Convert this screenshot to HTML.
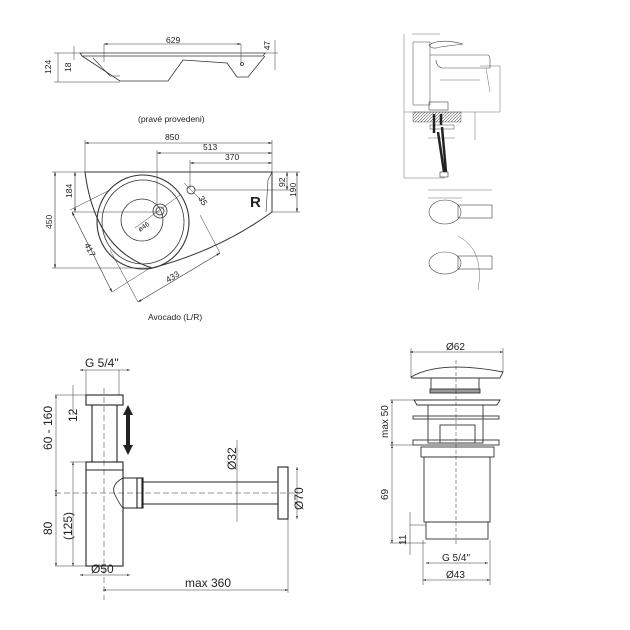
<!DOCTYPE html>
<html><head><meta charset="utf-8"><style>
html,body{margin:0;padding:0;background:#fff;}
svg{display:block;font-family:"Liberation Sans",sans-serif;}
</style></head><body>
<svg width="630" height="630" viewBox="0 0 630 630" xmlns="http://www.w3.org/2000/svg">
<defs>
<marker id="a" viewBox="0 0 10 10" refX="10" refY="5" markerWidth="6" markerHeight="6" orient="auto-start-reverse"><path d="M0,2L10,5L0,8z" fill="#222"/></marker>
<pattern id="h" width="3" height="3" patternUnits="userSpaceOnUse"><path d="M0,3L3,0" stroke="#555" stroke-width="0.6"/></pattern>
</defs>
<g fill="none" stroke="#333" stroke-width="0.8">
<!-- side view of sink -->
<path d="M80,53 L265,53 L263,56 L82,56 Z"/>
<path d="M82,56 L120,81 L168,81 L183,60 L227,63 L237,77 L248,77 L265,56"/>
<path d="M93,58 L110,76 L120,76" stroke-width="0.6"/>
<line x1="104" y1="44" x2="241" y2="44" marker-start="url(#a)" marker-end="url(#a)" stroke-width="0.6"/>
<line x1="104" y1="44" x2="104" y2="62" stroke-width="0.5"/>
<line x1="241" y1="44" x2="241" y2="66" stroke-width="0.5"/>
<circle cx="242" cy="64" r="1.5"/>
<line x1="58" y1="53" x2="58" y2="82" stroke-width="0.5"/>
<line x1="54" y1="53" x2="82" y2="53" stroke-width="0.5"/>
<line x1="54" y1="82" x2="120" y2="82" stroke-width="0.5"/>
<line x1="74" y1="46" x2="74" y2="60" stroke-width="0.5"/>
<line x1="275" y1="40" x2="275" y2="70" stroke-width="0.5"/>
<line x1="265" y1="53" x2="278" y2="53" stroke-width="0.5"/>
<!-- plan view -->
<path d="M85,172 L272,172 L272,212 Q220,250 152,268 Q95,250 85,172 Z" stroke-width="1"/>
<path d="M265,172 L272,172 L268,180 L266,212" stroke-width="0.6"/>
<ellipse cx="143" cy="222" rx="46" ry="47" stroke-width="1.1"/>
<ellipse cx="143" cy="222" rx="41" ry="42"/>
<circle cx="142" cy="220" r="21"/>
<circle cx="160" cy="211" r="7"/><circle cx="160" cy="211" r="4"/>
<circle cx="191" cy="190" r="4"/>
<line x1="184" y1="183" x2="202" y2="201" stroke-width="0.5"/>
<line x1="135" y1="228" x2="180" y2="195" stroke-width="0.5"/>
<line x1="85" y1="143" x2="272" y2="143" marker-start="url(#a)" marker-end="url(#a)" stroke-width="0.6"/>
<line x1="157" y1="153" x2="272" y2="153" marker-start="url(#a)" marker-end="url(#a)" stroke-width="0.6"/>
<line x1="190" y1="163" x2="272" y2="163" marker-start="url(#a)" marker-end="url(#a)" stroke-width="0.6"/>
<line x1="85" y1="140" x2="85" y2="172" stroke-width="0.5"/>
<line x1="272" y1="140" x2="272" y2="172" stroke-width="0.5"/>
<line x1="157" y1="150" x2="157" y2="205" stroke-width="0.5"/>
<line x1="190" y1="160" x2="190" y2="188" stroke-width="0.5"/>
<line x1="55" y1="172" x2="55" y2="268" marker-start="url(#a)" marker-end="url(#a)" stroke-width="0.6"/>
<line x1="52" y1="172" x2="85" y2="172" stroke-width="0.5"/>
<line x1="52" y1="268" x2="150" y2="268" stroke-width="0.5"/>
<line x1="75" y1="172" x2="75" y2="212" marker-start="url(#a)" marker-end="url(#a)" stroke-width="0.6"/>
<line x1="72" y1="212" x2="160" y2="212" stroke-width="0.5"/>
<line x1="287" y1="172" x2="287" y2="190" marker-start="url(#a)" marker-end="url(#a)" stroke-width="0.6"/>
<line x1="297" y1="172" x2="297" y2="212" marker-start="url(#a)" marker-end="url(#a)" stroke-width="0.6"/>
<line x1="272" y1="172" x2="300" y2="172" stroke-width="0.5"/>
<line x1="195" y1="190" x2="290" y2="190" stroke-width="0.5"/>
<line x1="272" y1="212" x2="300" y2="212" stroke-width="0.5"/>
<line x1="70" y1="210" x2="110" y2="190" stroke-width="0.5"/>
<line x1="72" y1="212" x2="112" y2="292" marker-start="url(#a)" marker-end="url(#a)" stroke-width="0.6"/>
<line x1="112" y1="292" x2="150" y2="268" stroke-width="0.5"/>
<line x1="138" y1="302" x2="220" y2="253" marker-start="url(#a)" marker-end="url(#a)" stroke-width="0.6"/>
<line x1="138" y1="302" x2="110" y2="250" stroke-width="0.5"/>
<line x1="220" y1="253" x2="200" y2="215" stroke-width="0.5"/>
</g>
<g font-size="8.5" fill="#222">
<text x="166" y="43">629</text>
<text x="270" y="50" transform="rotate(-90 270 50)" font-size="8">47</text>
<text x="51" y="74" transform="rotate(-90 51 74)">124</text>
<text x="71" y="72" transform="rotate(-90 71 72)">18</text>
<text x="138" y="122">(pravé provedeni)</text>
<text x="165" y="140">850</text>
<text x="203" y="150">513</text>
<text x="225" y="160">370</text>
<text x="52" y="229" transform="rotate(-90 52 229)">450</text>
<text x="72" y="198" transform="rotate(-90 72 198)">184</text>
<text x="285" y="187" transform="rotate(-90 285 187)">92</text>
<text x="296" y="197" transform="rotate(-90 296 197)">190</text>
<text x="198" y="198" transform="rotate(60 198 198)">35</text>
<text x="140" y="232" transform="rotate(-35 140 232)" font-size="7">ø46</text>
<text x="84" y="245" transform="rotate(62 84 245)">417</text>
<text x="168" y="283" transform="rotate(-32 168 283)">433</text>
<text x="148" y="320">Avocado (L/R)</text>
<text x="250" y="207" font-size="15" font-weight="bold">R</text>
</g>
<!-- faucet -->
<g fill="none" stroke="#444" stroke-width="0.6">
<path d="M413,42 L430,42 L430,105 L413,105 Z" stroke-width="0.5"/>
<path d="M430,55 L488,55 Q490,56 490,60 L490,68 L442,68 Q436,66 436,60"/>
<path d="M429,45 Q440,38 463,44 L440,47 Q432,50 429,45 Z"/>
<rect x="429" y="102" width="19" height="8"/>
<rect x="413" y="112" width="48" height="10" fill="url(#h)" stroke-width="0.4"/>
<line x1="404" y1="112" x2="500" y2="112" stroke-width="0.4"/>
<line x1="404" y1="34" x2="404" y2="178" stroke-width="0.4"/>
<line x1="412" y1="34" x2="440" y2="34" stroke-width="0.4"/>
<line x1="480" y1="66" x2="500" y2="66" stroke-width="0.4"/>
<line x1="500" y1="66" x2="500" y2="112" stroke-width="0.4"/>
<line x1="486" y1="68" x2="490" y2="92" stroke-width="0.4"/>
<line x1="475" y1="112" x2="475" y2="140" stroke-width="0.4"/>
<line x1="440" y1="80" x2="480" y2="80" stroke-width="0.4"/>
<line x1="428" y1="138" x2="455" y2="138" stroke-width="0.4"/>
<line x1="404" y1="178" x2="445" y2="178" stroke-width="0.4"/>
<rect x="430" y="125" width="24" height="4" stroke-width="0.5"/>
<ellipse cx="445" cy="212" rx="16" ry="12"/>
<rect x="458" y="205" width="34" height="13"/>
<line x1="428" y1="190" x2="492" y2="190" stroke-width="0.4"/>
<line x1="428" y1="198" x2="462" y2="198" stroke-width="0.4"/>
<ellipse cx="445" cy="263" rx="16" ry="11"/>
<rect x="458" y="256" width="34" height="13"/>
<path d="M458,236 Q485,250 478,290" stroke-width="0.4"/>
</g>
<g stroke="#222" stroke-width="2.5" fill="none">
<line x1="434" y1="114" x2="434" y2="133"/>
<line x1="441" y1="114" x2="441" y2="125"/>
<line x1="442" y1="127" x2="446" y2="172"/>
<line x1="438" y1="132" x2="444" y2="172"/>
</g>
<rect x="440" y="172" width="8" height="5" fill="none" stroke="#333" stroke-width="0.6"/>
<!-- bottom-left siphon -->
<g fill="none" stroke="#222" stroke-width="1.1">
<rect x="86" y="395" width="37" height="10"/>
<path d="M92,405 L92,462 M117,405 L117,462"/>
<rect x="86" y="462" width="37" height="104"/>
<line x1="86" y1="470" x2="123" y2="470"/>
<path d="M123,478 L142,478 L142,508 L123,508"/>
<path d="M123,478 Q110,485 115,495 Q120,505 123,508" stroke-width="0.8"/>
<rect x="137" y="478" width="6" height="30"/>
<path d="M143,482 L278,482 M143,504 L278,504"/>
<rect x="278" y="467" width="10" height="52"/>
</g>
<g fill="none" stroke="#333" stroke-width="0.5">
<line x1="104" y1="388" x2="104" y2="600" stroke-dasharray="6 3"/>
<line x1="55" y1="493" x2="300" y2="493" stroke-dasharray="6 3"/>
<line x1="80" y1="370" x2="130" y2="370" marker-start="url(#a)" marker-end="url(#a)"/>
<line x1="86" y1="370" x2="86" y2="395"/><line x1="119" y1="370" x2="119" y2="395"/>
<line x1="55" y1="395" x2="86" y2="395"/>
<line x1="56" y1="395" x2="56" y2="493" marker-start="url(#a)" marker-end="url(#a)"/>
<line x1="56" y1="493" x2="56" y2="566" marker-start="url(#a)" marker-end="url(#a)"/>
<line x1="55" y1="566" x2="86" y2="566"/>
<line x1="73" y1="385" x2="73" y2="415"/>
<line x1="73" y1="462" x2="73" y2="566" marker-start="url(#a)" marker-end="url(#a)"/>
<line x1="70" y1="462" x2="86" y2="462"/>
<line x1="80" y1="575" x2="130" y2="575" marker-start="url(#a)" marker-end="url(#a)"/>
<line x1="103" y1="590" x2="288" y2="590" marker-start="url(#a)" marker-end="url(#a)"/>
<line x1="288" y1="519" x2="288" y2="593"/>
<line x1="237" y1="440" x2="237" y2="522"/>
<line x1="297" y1="467" x2="297" y2="519" marker-start="url(#a)" marker-end="url(#a)"/>
</g>
<path d="M128,405 L123,415 L126,415 L126,445 L123,445 L128,455 L133,445 L130,445 L130,415 L133,415 Z" fill="#222"/>
<g font-size="12" fill="#222">
<text x="85" y="367">G 5/4"</text>
<text x="52" y="450" transform="rotate(-90 52 450)">60 - 160</text>
<text x="77" y="422" transform="rotate(-90 77 422)">12</text>
<text x="72" y="540" transform="rotate(-90 72 540)">(125)</text>
<text x="52" y="535" transform="rotate(-90 52 535)">80</text>
<text x="91" y="573">Ø50</text>
<text x="185" y="587">max 360</text>
<text x="236" y="470" transform="rotate(-90 236 470)">Ø32</text>
<text x="303" y="510" transform="rotate(-90 303 510)">Ø70</text>
</g>
<!-- bottom-right waste -->
<g fill="none" stroke="#333" stroke-width="0.9">
<path d="M411,377 Q440,360 503,372 L500,378 L412,378 Z"/>
<rect x="431" y="378" width="48" height="12"/>
<rect x="430" y="389" width="50" height="4" fill="#999"/>
<path d="M414,400 L500,400 L497,405 L417,405 Z"/>
<rect x="428" y="405" width="55" height="38"/>
<rect x="413" y="416" width="86" height="3"/>
<rect x="440" y="425" width="35" height="18"/>
<rect x="413" y="440" width="86" height="5"/>
<rect x="421" y="447" width="73" height="10"/>
<rect x="424" y="457" width="66" height="65"/>
<rect x="426" y="522" width="62" height="17"/>
</g>
<g fill="none" stroke="#333" stroke-width="0.5">
<line x1="456" y1="360" x2="456" y2="545" stroke-dasharray="4 2"/>
<line x1="410" y1="352" x2="503" y2="352" marker-start="url(#a)" marker-end="url(#a)"/>
<line x1="411" y1="348" x2="411" y2="377"/><line x1="503" y1="348" x2="503" y2="372"/>
<line x1="390" y1="400" x2="414" y2="400"/>
<line x1="392" y1="400" x2="392" y2="445" marker-start="url(#a)" marker-end="url(#a)"/>
<line x1="390" y1="445" x2="414" y2="445"/>
<line x1="392" y1="445" x2="392" y2="543" marker-start="url(#a)" marker-end="url(#a)"/>
<line x1="390" y1="543" x2="426" y2="543"/>
<line x1="410" y1="525" x2="426" y2="525"/>
<line x1="410" y1="512" x2="410" y2="555"/>
<line x1="426" y1="563" x2="488" y2="563" marker-start="url(#a)" marker-end="url(#a)"/>
<line x1="423" y1="580" x2="490" y2="580" marker-start="url(#a)" marker-end="url(#a)"/>
<line x1="423" y1="540" x2="423" y2="585"/><line x1="490" y1="540" x2="490" y2="585"/>
</g>
<g font-size="10" fill="#222">
<text x="446" y="350">Ø62</text>
<text x="388" y="438" transform="rotate(-90 388 438)">max 50</text>
<text x="388" y="500" transform="rotate(-90 388 500)">69</text>
<text x="406" y="545" transform="rotate(-90 406 545)">11</text>
<text x="442" y="561">G 5/4"</text>
<text x="446" y="578">Ø43</text>
</g>
</svg>
</body></html>
